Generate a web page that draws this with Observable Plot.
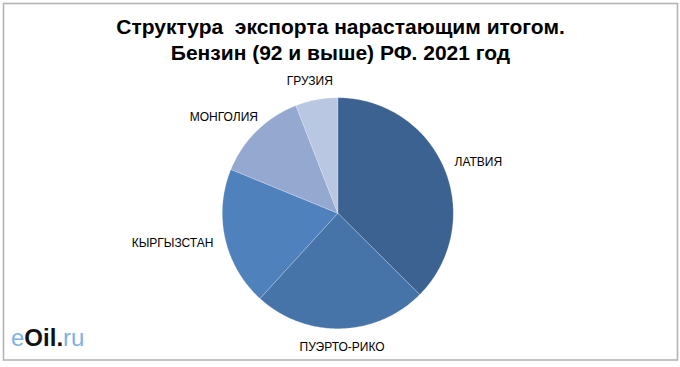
<!DOCTYPE html>
<html>
<head>
<meta charset="utf-8">
<script src="https://cdn.jsdelivr.net/npm/d3@7"></script>
<script src="https://cdn.jsdelivr.net/npm/@observablehq/plot@0.6"></script>
<style>
  html, body { margin: 0; padding: 0; background: #fff; }
  #chart { width: 680px; height: 367px; }
</style>
</head>
<body>
<div id="chart"></div>
<script>
// Data (shares of export, %; clockwise from 12 o'clock)
const countries = ["ЛАТВИЯ", "ПУЭРТО-РИКО", "КЫРГЫЗСТАН", "МОНГОЛИЯ", "ГРУЗИЯ"];
const shares = [37.4, 24.3, 19.4, 12.9, 5.9];
const colors = ["#3C6291", "#4674A9", "#4F81BD", "#95A9D0", "#B9C7E2"];
const titleLines = ["Структура  экспорта нарастающим итогом.", "Бензин (92 и выше) РФ. 2021 год"];

// Layout
const W = 680, H = 367;
const cx = 337.3, cy = 212.7, R = 115.5;
const FONT = "'Liberation Sans', Arial, sans-serif";
const labelSize = 12;

const pie = d3.pie().sort(null).value(d => d.share);
const rows = countries.map((c, i) => ({name: c, share: shares[i]}));
const arcs = pie(rows);

// Slice polygons in unit coordinates (angle measured clockwise from top)
const slicePts = [];
for (const a of arcs) {
  const n = Math.max(2, Math.ceil((a.endAngle - a.startAngle) / 0.01));
  slicePts.push({name: a.data.name, x: 0, y: 0});
  for (let k = 0; k <= n; k++) {
    const t = a.startAngle + (a.endAngle - a.startAngle) * k / n;
    slicePts.push({name: a.data.name, x: Math.sin(t), y: Math.cos(t)});
  }
  slicePts.push({name: a.data.name, x: 0, y: 0});
}

// Label positions: box edge just outside the rim, along the mid-angle
const ctx = document.createElement("canvas").getContext("2d");
ctx.font = `${labelSize}px ${FONT}`;
const gap = 13, lh = 11;
const labels = arcs.map(a => {
  const m = (a.startAngle + a.endAngle) / 2;
  const w = ctx.measureText(a.data.name).width;
  const rr = R + gap;
  const px = Math.sin(m) * rr + Math.sin(m) * w / 2;
  const py = Math.cos(m) * rr + Math.cos(m) * lh / 2;
  return {name: a.data.name, x: px / R, y: py / R};
});

const chart = Plot.plot({
  width: W,
  height: H,
  margin: 0,
  style: {background: "#fff", overflow: "visible"},
  x: {type: "linear", domain: [-1, 1], range: [cx - R, cx + R], axis: null},
  y: {type: "linear", domain: [-1, 1], range: [cy + R, cy - R], axis: null},
  color: {domain: countries, range: colors},
  marks: [
    Plot.frame({stroke: "#B4B4B4", strokeWidth: 1.6, insetTop: 3, insetLeft: 3, insetRight: 3, insetBottom: 7.5}),
    Plot.line(slicePts, {x: "x", y: "y", z: "name", fill: "name", stroke: "#ffffff", strokeOpacity: 0.35, strokeWidth: 0.6, curve: "linear"}),
    Plot.text(labels, {x: "x", y: "y", text: "name", fill: "#000", fontSize: labelSize, fontFamily: FONT, textAnchor: "middle", lineAnchor: "middle"}),
    Plot.text([titleLines.join("\n")], {frameAnchor: "top", dy: 16, text: d => d, fontSize: 21, fontWeight: "bold", fontFamily: FONT, fill: "#000", lineHeight: 1.2, lineAnchor: "top"})
  ]
});

// Logo (text)
const svg = d3.select(chart);
const logo = svg.append("text")
  .attr("x", 11).attr("y", 346)
  .attr("text-anchor", "start")
  .attr("font-family", FONT)
  .attr("font-size", 24);
logo.append("tspan").attr("fill", "#7FB2DE").text("e");
logo.append("tspan").attr("fill", "#111").attr("font-weight", "bold").text("Oil");
logo.append("tspan").attr("fill", "#111").attr("font-weight", "bold").text(".");
logo.append("tspan").attr("fill", "#7FB2DE").text("ru");

document.getElementById("chart").append(chart);
</script>
</body>
</html>
